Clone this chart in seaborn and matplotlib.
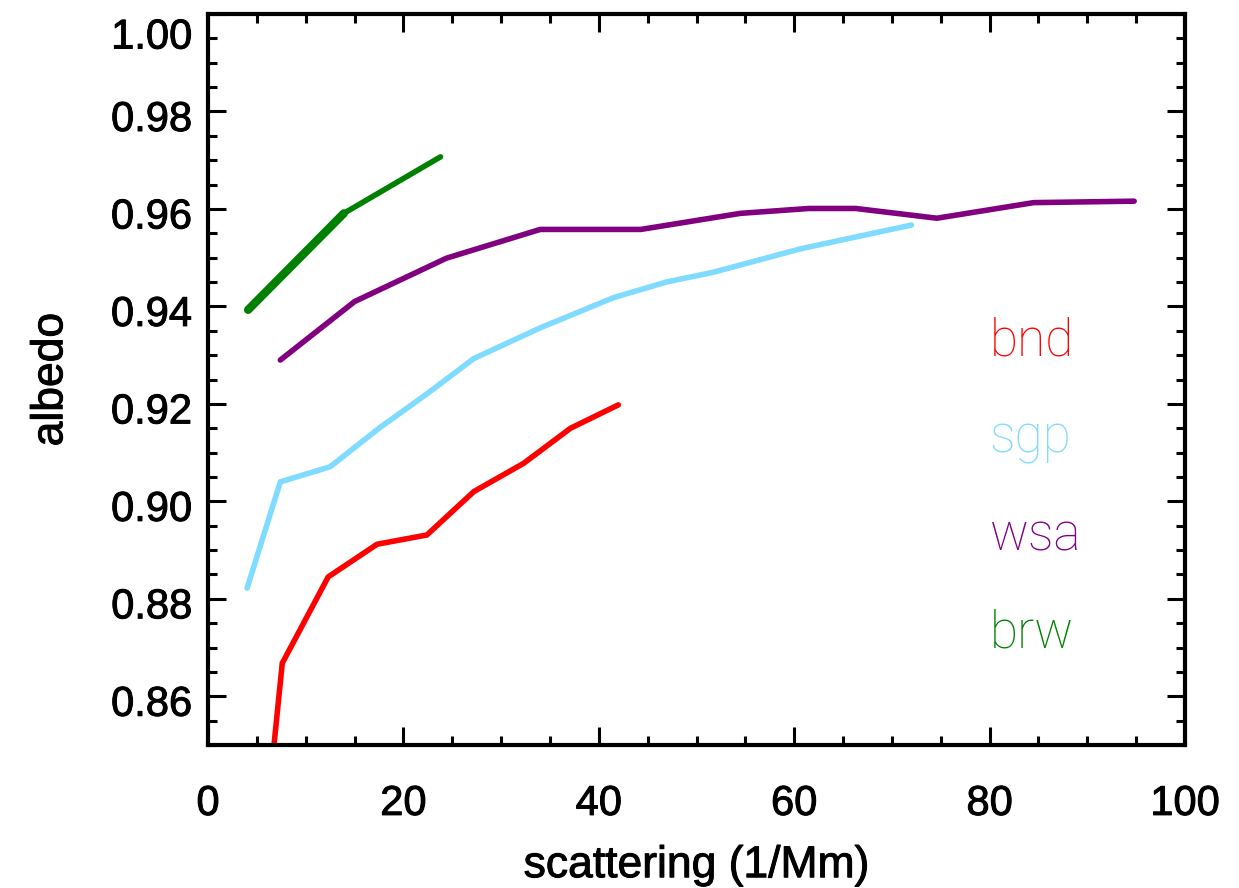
import numpy as np
import pandas as pd
import seaborn as sns
import matplotlib.pyplot as plt
from matplotlib.ticker import MultipleLocator, FixedLocator
import matplotlib.transforms as mtransforms
import matplotlib.patheffects as pe

# ---- data ----
bnd_x = [6.5, 7.6, 12.3, 17.3, 22.4, 27.2, 32.3, 37.1, 42.0]
bnd_y = [0.845, 0.8668, 0.8845, 0.8912, 0.8931, 0.9020, 0.9078, 0.9150, 0.9198]

sgp_x = [4.0, 7.4, 12.5, 17.5, 22.5, 27.2, 34.0, 41.5, 46.9, 51.7, 60.6, 72.0]
sgp_y = [0.8822, 0.9040, 0.9071, 0.9150, 0.9222, 0.9293, 0.9356, 0.9418, 0.9450, 0.9470, 0.9518, 0.9567]

wsa_x = [7.4, 15.0, 24.4, 34.0, 44.3, 54.5, 61.5, 66.3, 74.6, 84.5, 94.8]
wsa_y = [0.9290, 0.9410, 0.9499, 0.9558, 0.9558, 0.9591, 0.9601, 0.9601, 0.9581, 0.9613, 0.9616]

brw_x = [4.1, 13.9, 23.8]
brw_y = [0.9393, 0.9591, 0.9707]

sites = ["bnd", "sgp", "wsa", "brw"]
site_colors = ["#FF0000", "#7FDBFF", "#800080", "#008000"]
label_y = [0.930, 0.910, 0.890, 0.870]
label_x = 80

x_ticks = [0, 20, 40, 60, 80, 100]
y_ticks = [0.86, 0.88, 0.90, 0.92, 0.94, 0.96, 0.98, 1.00]
y_tick_labels = ["0.86", "0.88", "0.90", "0.92", "0.94", "0.96", "0.98", "1.00"]

sns.set_theme(style="ticks")
plt.rcParams['font.family'] = ['Liberation Sans', 'DejaVu Sans']

fig = plt.figure(figsize=(12.39, 8.88), dpi=100)
ax = fig.add_axes([0.1679, 0.1610, 0.7885, 0.8232])

series = [(bnd_x, bnd_y), (sgp_x, sgp_y), (wsa_x, wsa_y), (brw_x, brw_y)]
for (xs, ys), c in zip(series, site_colors):
    df = pd.DataFrame({"scattering": xs, "albedo": ys})
    sns.lineplot(data=df, x="scattering", y="albedo", color=c, lw=4,
                 sort=False, estimator=None, ax=ax, legend=False)
# first brw segment drawn heavier, as in the reference
sns.lineplot(x=brw_x[:2], y=brw_y[:2], color=site_colors[3], lw=6,
             sort=False, estimator=None, ax=ax, legend=False)

for name, c, ly in zip(sites, site_colors, label_y):
    ax.text(label_x, ly, name, color=c, fontsize=37, fontfamily='Roboto',
            fontweight='light', ha='left', va='baseline')

ax.set_xlim(0, 100)
ax.set_ylim(0.85, 1.0)
ax.xaxis.set_major_locator(FixedLocator(x_ticks))
ax.xaxis.set_minor_locator(MultipleLocator(5))
ax.set_yticks(y_ticks)
ax.set_yticklabels(y_tick_labels)
ax.yaxis.set_minor_locator(MultipleLocator(0.005))

ax.tick_params(which='both', direction='in', top=True, right=True,
               width=2.2, color='black', labelcolor='black')
ax.tick_params(which='major', length=13)
ax.tick_params(which='minor', length=6.5)
ax.tick_params(axis='x', labelsize=30, pad=28)
ax.tick_params(axis='y', labelsize=30, pad=11.5)
for s in ax.spines.values():
    s.set_linewidth(3)
    s.set_color('black')

ax.set_xlabel("scattering (1/Mm)", fontsize=32, color='black')
ax.set_ylabel("albedo", fontsize=32, color='black')
ax.xaxis.set_label_coords(0.5, -0.137)
ax.yaxis.set_label_coords(-0.140, 0.5)

heavy = [pe.withStroke(linewidth=0.7, foreground='black')]
ax.xaxis.label.set_path_effects(heavy)
ax.yaxis.label.set_path_effects(heavy)

fig.canvas.draw()
for lab in ax.get_xticklabels():
    lab.set_path_effects(heavy)
for lab in ax.get_yticklabels():
    lab.set_path_effects(heavy)
    dy = 19 if lab.get_text() == "1.00" else 4
    lab.set_transform(lab.get_transform() +
                      mtransforms.ScaledTranslation(0, -dy / 100, fig.dpi_scale_trans))

fig.savefig("out.png", dpi=100)
